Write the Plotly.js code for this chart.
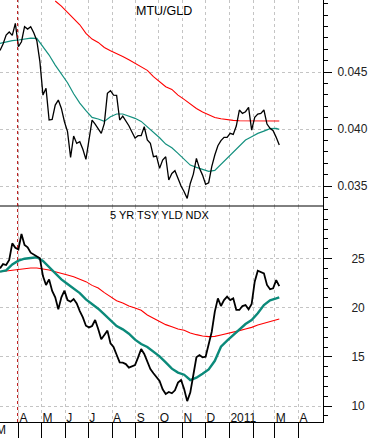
<!DOCTYPE html>
<html>
<head>
<meta charset="utf-8">
<script src="https://cdn.plot.ly/plotly-3.0.1.min.js"></script>
<style>html,body{margin:0;padding:0;background:#fff;}#chart{width:371px;height:438px;}</style>
</head>
<body>
<div id="chart"></div>
<script>
// ---- data ----
const seriesStart = '2010-03-08';   // first observation
const stepDays = 4;                 // sampling interval of the read-off values

const mtuGld = [
0.0469, 0.04746, 0.04825, 0.04851, 0.04822, 0.04927, 0.04722, 0.04766, 0.04898, 0.04877,
0.04898, 0.04845, 0.04775, 0.04591, 0.04298, 0.04357, 0.04079, 0.04085, 0.0421, 0.04254,
0.04181, 0.04064, 0.03977, 0.03751, 0.03939, 0.03874, 0.03889, 0.03822, 0.03734, 0.03898,
0.04079, 0.04044, 0.03997, 0.03962, 0.0405, 0.04313, 0.04336, 0.04298, 0.04295, 0.04079,
0.04114, 0.04073, 0.04029, 0.03974, 0.03921, 0.03942, 0.03942, 0.0402, 0.03904, 0.03874,
0.03757, 0.03763, 0.03655, 0.03728, 0.03757, 0.03553, 0.03611, 0.03635, 0.03567, 0.035,
0.0345, 0.03392, 0.03523, 0.03605, 0.03743, 0.03655, 0.03596, 0.03515, 0.03529, 0.0367,
0.03772, 0.03854, 0.03898, 0.03927, 0.03927, 0.03962, 0.03953, 0.04026, 0.04167, 0.04137,
0.04152, 0.0419, 0.03991, 0.04102, 0.04132, 0.04137, 0.04167, 0.04044, 0.04006, 0.03985,
0.03927, 0.0386];

const mtuGldMa50 = [
0.04751, 0.04766, 0.04775, 0.04781, 0.04789, 0.04798, 0.04795, 0.04722, 0.04649, 0.04561,
0.04488, 0.04406, 0.0431, 0.04228, 0.04161, 0.04102, 0.04088, 0.04067, 0.04108, 0.04132,
0.04132, 0.04114, 0.04094, 0.04067, 0.04018, 0.03977, 0.03924, 0.03868, 0.03836, 0.03787,
0.03734, 0.03684, 0.03664, 0.03646, 0.03629, 0.03637, 0.0369, 0.03743, 0.03798, 0.03857,
0.03904, 0.03933, 0.03962, 0.03982, 0.04003, 0.04006, 0.03997];

const mtuGldMa200 = [
null, null, null, null, null, null, null, null, null, 0.05123,
0.05079, 0.05023, 0.04968, 0.04915, 0.04839, 0.04789, 0.0476, 0.04716, 0.04687, 0.04664,
0.04637, 0.04608, 0.04579, 0.04547, 0.04515, 0.04459, 0.04415, 0.04371, 0.04348, 0.04298,
0.0426, 0.04219, 0.04181, 0.04149, 0.04123, 0.04102, 0.04091, 0.04082, 0.04076, 0.04073,
0.04073, 0.04073, 0.04073, 0.04073, 0.04073, 0.04073, 0.0407];

const yld5 = [
24.0, 24.44, 24.34, 24.85, 26.54, 26.1, 25.93, 27.49, 26.37, 26.13,
25.59, 25.39, 25.19, 25.02, 23.22, 22.31, 22.88, 21.7, 21.05, 19.83,
21.05, 21.73, 20.78, 20.61, 20.88, 20.44, 19.66, 19.02, 18.17, 18.0,
18.14, 18.75, 17.84, 16.79, 17.23, 17.67, 16.38, 16.0, 15.22, 14.44,
14.41, 14.27, 13.9, 14.0, 14.17, 14.95, 15.8, 15.29, 14.58, 13.77,
13.33, 12.89, 12.55, 11.7, 11.23, 11.43, 11.3, 11.6, 12.38, 12.65,
11.74, 10.5, 11.37, 13.16, 14.96, 15.19, 14.96, 15.02, 16.21, 17.56,
19.6, 20.95, 20.17, 20.78, 21.12, 20.78, 20.95, 19.77, 19.77, 20.17,
20.27, 19.83, 20.38, 22.65, 23.76, 23.66, 23.49, 22.31, 21.87, 21.97,
22.81, 22.2];

const yld5Ma50 = [
23.66, 23.8, 24.4, 24.78, 24.98, 25.08, 25.12, 24.75, 24.14, 23.49,
22.88, 22.41, 21.97, 21.49, 20.85, 20.38, 19.9, 19.33, 18.68, 18.14,
17.8, 17.36, 16.75, 16.31, 16.01, 15.53, 15.06, 14.45, 13.8, 13.4,
13.19, 12.65, 12.89, 13.29, 13.73, 14.6, 16.04, 16.65, 17.23, 17.74,
18.34, 18.75, 19.43, 20.27, 20.75, 20.95, 21.06];

const yld5Ma200 = [
23.66, 23.73, 23.83, 23.9, 24.0, 24.04, 24.04, 23.97, 23.83, 23.66,
23.46, 23.32, 23.15, 22.92, 22.65, 22.27, 22.0, 21.53, 21.12, 20.71,
20.48, 20.17, 19.97, 19.73, 19.26, 18.92, 18.58, 18.28, 18.07, 17.84,
17.7, 17.43, 17.26, 17.12, 17.06, 17.09, 17.23, 17.36, 17.5, 17.67,
17.84, 18.0, 18.24, 18.41, 18.61, 18.78, 18.85];

const monthTicks = ['2010-04-01','2010-05-01','2010-06-01','2010-07-01','2010-08-01','2010-09-01',
  '2010-10-01','2010-11-01','2010-12-01','2011-01-01','2011-02-01','2011-03-01','2011-04-01'];
const monthLabels = ['A','M','J','J','A','S','O','N','D','2011','','M','A'];
const firstMonthLabel = 'M';   // March 2010, mostly cut off at the left edge
const topTicks = [0.035, 0.040, 0.045];
const topTickText = ['0.035','0.040','0.045'];
const bottomTicks = [10, 15, 20, 25];
const bottomTickText = ['10','15','20','25'];
const markerDate = '2010-03-31';
const topTitle = 'MTU/GLD';
const bottomTitle = '5 YR TSY YLD NDX';

// ---- build date index ----
const dates = [];
const t0 = Date.parse(seriesStart + 'T00:00:00Z');
for (let i = 0; i < mtuGld.length; i++) {
  dates.push(new Date(t0 + i * stepDays * 86400000).toISOString().slice(0, 10));
}
const maDates = dates.filter((d, i) => i % 2 === 0 || i === dates.length - 1);

const RED = '#ff0000', TEAL = '#14907f', BLACK = '#000000';
const traces = [
  {x: maDates, y: mtuGldMa200, xaxis: 'x', yaxis: 'y', mode: 'lines', line: {color: RED, width: 1.1}, connectgaps: false},
  {x: maDates, y: mtuGldMa50, xaxis: 'x', yaxis: 'y', mode: 'lines', line: {color: TEAL, width: 1.2}},
  {x: dates, y: mtuGld, xaxis: 'x', yaxis: 'y', mode: 'lines', line: {color: BLACK, width: 1.3}},
  {x: maDates, y: yld5Ma200, xaxis: 'x', yaxis: 'y2', mode: 'lines', line: {color: RED, width: 1.1}},
  {x: maDates, y: yld5Ma50, xaxis: 'x', yaxis: 'y2', mode: 'lines', line: {color: '#0b8a7a', width: 2.4}},
  {x: dates, y: yld5, xaxis: 'x', yaxis: 'y2', mode: 'lines', line: {color: BLACK, width: 1.8}}
];

const FONT = 'Liberation Sans, Arial, sans-serif';
const GRID = '#c4c4c4';
const split = 1 - 206 / 422;

const layout = {
  width: 371, height: 438,
  margin: {l: 0, r: 48, t: 0, b: 16, pad: 0},
  paper_bgcolor: '#ffffff', plot_bgcolor: '#ffffff',
  showlegend: false,
  font: {family: FONT, size: 12, color: '#222'},
  xaxis: {
    type: 'date', range: ['2010-03-08', '2011-05-03'], anchor: 'y2',
    tickmode: 'array', tickvals: monthTicks, ticktext: monthLabels,
    ticks: 'outside', ticklen: 16, tickcolor: '#000', tickwidth: 1,
    tickangle: 0,
    ticklabelposition: 'outside right', ticklabelstandoff: -15,
    tickfont: {family: FONT, size: 12, color: '#111'},
    showgrid: true, gridcolor: GRID, griddash: '3px,3px', gridwidth: 1,
    showline: true, linecolor: '#000', linewidth: 1, zeroline: false
  },
  yaxis: {
    domain: [split, 1], anchor: 'x', side: 'right',
    range: [0.03325, 0.05132],
    tickmode: 'array', tickvals: topTicks, ticktext: topTickText,
    ticks: 'outside', ticklen: 8, tickcolor: '#000',
    ticklabelstandoff: 3,
    tickfont: {family: FONT, size: 12, color: '#222'},
    minor: {tickmode: 'linear', tick0: 0.03, dtick: 0.001, ticks: 'outside', ticklen: 4, tickcolor: '#000', showgrid: false},
    showgrid: true, gridcolor: GRID, griddash: '3px,3px',
    showline: true, linecolor: '#000', linewidth: 1, zeroline: false
  },
  yaxis2: {
    domain: [0, split], anchor: 'x', side: 'right',
    range: [8.38, 30.34],
    tickmode: 'array', tickvals: bottomTicks, ticktext: bottomTickText,
    ticks: 'outside', ticklen: 8, tickcolor: '#000',
    ticklabelstandoff: 17,
    tickfont: {family: FONT, size: 12, color: '#222'},
    minor: {tickmode: 'linear', tick0: 0, dtick: 1, ticks: 'outside', ticklen: 4, tickcolor: '#000', showgrid: false},
    showgrid: true, gridcolor: GRID, griddash: '3px,3px',
    showline: true, linecolor: '#000', linewidth: 1, zeroline: false
  },
  shapes: [
    {type: 'line', xref: 'paper', yref: 'paper', x0: 0, x1: 1, y0: split, y1: split, line: {color: '#000', width: 1}},
    {type: 'line', xref: 'x', yref: 'paper', x0: markerDate, x1: markerDate, y0: 0, y1: 1, line: {color: '#b00000', width: 1, dash: '3px,3px'}}
  ],
  annotations: [
    {xref: 'paper', yref: 'paper', x: 134 / 323, y: 1 - 11 / 422, xanchor: 'left', yanchor: 'middle', text: topTitle, showarrow: false, font: {family: FONT, size: 12.5, color: '#000'}},
    {xref: 'paper', yref: 'paper', x: 108 / 323, y: 1 - 215 / 422, xanchor: 'left', yanchor: 'middle', text: bottomTitle, showarrow: false, font: {family: FONT, size: 11, color: '#000'}},
    {xref: 'paper', yref: 'paper', x: -6 / 323, y: -8 / 422, xanchor: 'left', yanchor: 'middle', text: firstMonthLabel, showarrow: false, font: {family: FONT, size: 12, color: '#111'}}
  ]
};

Plotly.newPlot('chart', traces, layout, {displayModeBar: false, staticPlot: true});
</script>
</body>
</html>
